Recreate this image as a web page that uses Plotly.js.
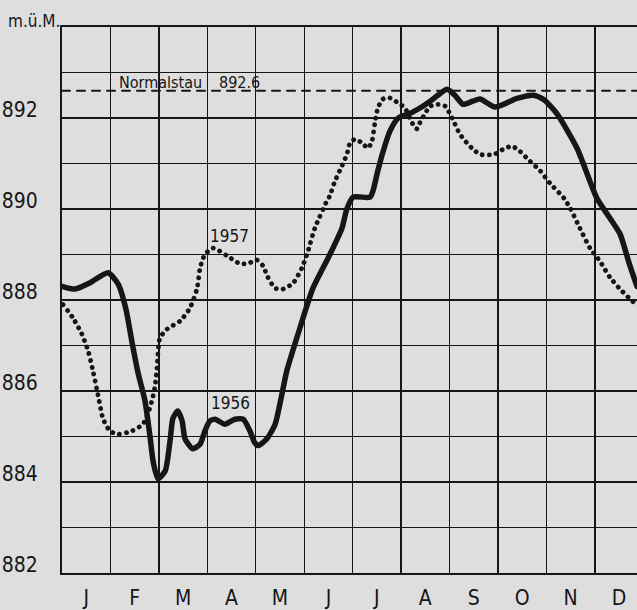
<!DOCTYPE html>
<html>
<head>
<meta charset="utf-8">
<script src="https://cdn.plot.ly/plotly-3.0.1.min.js"></script>
<style>
  html, body { margin: 0; padding: 0; background: #dedede; overflow: hidden; }
  #chart path.js-line { stroke-linecap: round !important; }
</style>
</head>
<body>
<div id="chart" style="width:637px;height:610px;"></div>
<script>
// Month labels (x axis) and y tick labels
const months = ['J','F','M','A','M','J','J','A','S','O','N','D'];
const monthPos = [0.5,1.5,2.5,3.5,4.5,5.5,6.5,7.5,8.5,9.5,10.5,11.5];
const yTickVals = [882,884,886,888,890,892];
const yTickText = ['882','884','886','888','890','892'];

// Normal water level (Normalstau)
const normalstau = 892.6;

// 1956 water level (x in months from 1 Jan, y in m ü.M.)
const x1956 = [0.00,0.27,0.58,0.95,1.16,1.32,1.44,1.57,1.71,1.82,1.88,1.98,2.13,2.23,2.29,2.39,2.48,2.54,2.70,2.85,2.95,3.05,3.16,3.36,3.57,3.74,3.88,3.98,4.05,4.23,4.40,4.54,4.64,4.91,5.18,5.53,5.78,5.88,6.01,6.36,6.42,6.52,6.63,6.77,6.94,7.18,7.39,7.60,7.76,7.95,8.11,8.28,8.48,8.63,8.94,9.39,9.74,9.95,10.22,10.63,11.04,11.31,11.52,11.71,11.87];
const y1956 = [888.3,888.24,888.38,888.6,888.35,887.8,887.1,886.4,885.8,884.97,884.46,884.07,884.24,884.9,885.4,885.56,885.34,884.95,884.73,884.83,885.12,885.34,885.38,885.27,885.38,885.38,885.12,884.86,884.8,884.95,885.27,885.93,886.44,887.38,888.26,889.0,889.58,890.0,890.26,890.26,890.4,890.84,891.27,891.71,892.0,892.1,892.22,892.37,892.5,892.63,892.5,892.3,892.37,892.42,892.24,892.43,892.5,892.4,892.09,891.34,890.24,889.8,889.45,888.8,888.3];

// 1957 water level
const x1957 = [0.02,0.23,0.41,0.54,0.64,0.74,0.85,0.99,1.16,1.44,1.67,1.78,1.86,1.92,1.96,2.02,2.17,2.44,2.64,2.79,2.85,2.95,3.12,3.41,3.67,3.84,4.02,4.15,4.25,4.40,4.56,4.77,4.95,5.08,5.22,5.47,5.53,5.63,5.78,5.88,5.94,6.05,6.19,6.32,6.40,6.46,6.52,6.63,6.77,6.94,7.08,7.18,7.24,7.33,7.39,7.49,7.60,7.76,7.91,8.01,8.11,8.21,8.36,8.48,8.63,8.92,9.12,9.29,9.45,9.66,9.87,10.07,10.36,10.49,10.69,10.90,11.10,11.31,11.52,11.73,11.87];
const y1957 = [887.9,887.6,887.25,886.88,886.44,885.93,885.38,885.12,885.05,885.12,885.27,885.52,885.8,886.1,886.5,887.16,887.36,887.54,887.82,888.26,888.7,889.0,889.14,888.97,888.8,888.8,888.88,888.75,888.5,888.26,888.24,888.37,888.7,889.08,889.58,890.18,890.29,890.6,890.95,891.2,891.43,891.54,891.45,891.34,891.5,891.9,892.22,892.42,892.44,892.33,892.22,892.0,891.87,891.76,891.9,892.09,892.26,892.3,892.26,892.09,891.87,891.65,891.45,891.32,891.2,891.2,891.32,891.38,891.27,891.05,890.84,890.57,890.24,890.02,889.58,889.14,888.86,888.5,888.24,888.02,887.88];

const xMax = 11.87;
const ink = '#161616';
const bg = '#dedede';
const font = 'DejaVu Sans Condensed, DejaVu Sans, sans-serif';

const traces = [
  {
    x: [0, xMax], y: [normalstau, normalstau],
    mode: 'lines', line: {color: ink, width: 2, dash: '8px,7px'},
    hoverinfo: 'skip', showlegend: false
  },
  {
    x: x1957, y: y1957, name: '1957',
    mode: 'lines', line: {color: ink, width: 4.8, dash: '0.1px,6.9px', shape: 'spline', smoothing: 0.6},
    showlegend: false
  },
  {
    x: x1956, y: y1956, name: '1956',
    mode: 'lines', line: {color: ink, width: 5.5, shape: 'spline', smoothing: 0.6},
    showlegend: false
  }
];

const layout = {
  width: 637, height: 610,
  margin: {l: 62, r: 0, t: 27, b: 37, pad: 0},
  paper_bgcolor: bg, plot_bgcolor: bg,
  font: {family: font, color: ink},
  showlegend: false,
  xaxis: {
    range: [0, xMax], fixedrange: true,
    tickmode: 'array', tickvals: monthPos, ticktext: months,
    ticks: '', showgrid: false, zeroline: false,
    showline: true, mirror: true, linecolor: ink, linewidth: 2,
    tickfont: {size: 21, color: ink, family: font},
    ticklabelstandoff: 5,
    minor: {tickmode: 'linear', tick0: 0, dtick: 1, showgrid: true, gridcolor: ink, gridwidth: 1.3, ticks: ''}
  },
  yaxis: {
    range: [882, 894], fixedrange: true,
    tickmode: 'array', tickvals: yTickVals, ticktext: yTickText,
    ticks: '', showgrid: true, gridcolor: ink, gridwidth: 1.6, zeroline: false,
    showline: true, linecolor: ink, linewidth: 2,
    tickfont: {size: 21, color: ink, family: font},
    ticklabelstandoff: 18, ticklabelshift: -8,
    minor: {tickmode: 'linear', tick0: 882, dtick: 1, showgrid: true, gridcolor: ink, gridwidth: 1.6, ticks: ''}
  },
  annotations: [
    {xref: 'paper', yref: 'paper', x: -0.098, y: 1.0, xanchor: 'left', yanchor: 'bottom',
     text: 'm.ü.M.', showarrow: false, font: {size: 17, color: ink, family: font}, yshift: -6},
    {x: 1.13, y: 892.77, xanchor: 'left', yanchor: 'middle', text: 'Normalstau',
     showarrow: false, font: {size: 16, color: ink, family: font}},
    {x: 3.2, y: 892.77, xanchor: 'left', yanchor: 'middle', text: '892.6',
     showarrow: false, font: {size: 16, color: ink, family: font}},
    {x: 3.45, y: 889.41, text: '1957', showarrow: false, font: {size: 17, color: ink, family: font}},
    {x: 3.47, y: 885.74, text: '1956', showarrow: false, font: {size: 17, color: ink, family: font}}
  ]
};

Plotly.newPlot('chart', traces, layout, {displayModeBar: false, staticPlot: true}).then(function () {
  document.querySelectorAll('#chart path.js-line').forEach(function (p) {
    p.style.setProperty('stroke-linecap', 'round', 'important');
  });
});
</script>
</body>
</html>
